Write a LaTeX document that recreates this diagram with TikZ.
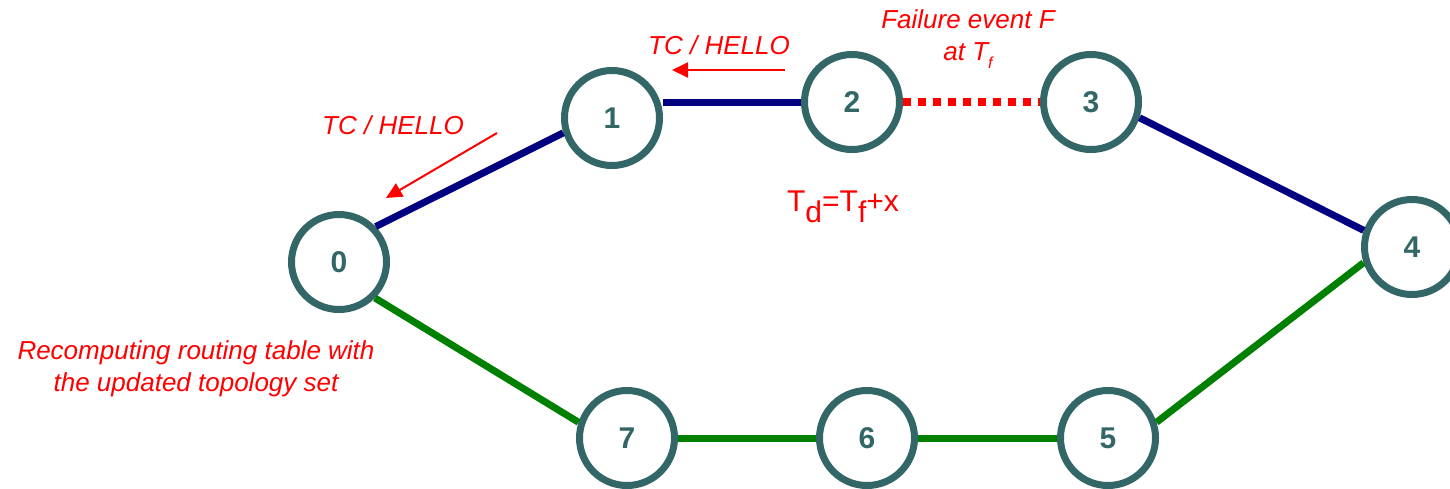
\documentclass[tikz,border=0pt]{standalone}
\usepackage{fontspec}
\setmainfont{Liberation Sans}
\usetikzlibrary{arrows.meta}
\definecolor{ringc}{RGB}{51,102,102}
\definecolor{navyc}{RGB}{0,0,128}
\definecolor{greenc}{RGB}{0,128,0}
\definecolor{redc}{RGB}{255,0,0}
\tikzset{
  router/.style={circle, draw=ringc, line width=7pt, fill=white, minimum size=95pt, inner sep=0pt,
    text=ringc, font=\fontsize{30}{30}\selectfont\bfseries},
  bluelink/.style={draw=navyc, line width=7pt},
  greenlink/.style={draw=greenc, line width=7pt},
  faillink/.style={draw=redc, line width=8pt, dash pattern=on 8pt off 7pt},
  msgarrow/.style={draw=redc, line width=2pt, -{Triangle[length=16pt,width=15pt]}},
  note/.style={text=redc, font=\fontsize{26}{32}\selectfont\itshape, align=center, inner sep=0pt},
}
\begin{document}
\begin{tikzpicture}[x=1pt,y=-1pt]
\useasboundingbox (0,0) rectangle (1450,488);
\clip (0,0) rectangle (1450,488);
% routers
\node[router] (n0) at (339,262) {0};
\node[router] (n1) at (612,118) {1};
\node[router] (n2) at (852,102) {2};
\node[router] (n3) at (1091,102) {3};
\node[router] (n4) at (1412,247) {4};
\node[router] (n5) at (1108,438) {5};
\node[router] (n6) at (867,438) {6};
\node[router] (n7) at (627,438) {7};
% links
\draw[bluelink] (n0.44) -- (n1.197);
\draw[bluelink] (n1.east |- n2.west) -- (n2.west);
\draw[faillink] (n2.east) -- (n3.west);
\draw[bluelink] (n3.342) -- (n4.161);
\draw[greenlink] (n4.198) -- (n5.18);
\draw[greenlink] (n5.west) -- (n6.east);
\draw[greenlink] (n6.west) -- (n7.east);
\draw[greenlink] (n7.162) -- (n0.315);
% message arrows
\coordinate (a1s) at (785,70);
\coordinate (a1e) at (672,70);
\coordinate (a2s) at (497,133);
\coordinate (a2e) at (386,198);
\draw[msgarrow] (a1s) -- (a1e);
\draw[msgarrow] (a2s) -- (a2e);
% labels
\node[note] (tc1) at (719,45) {TC / HELLO};
\node[note] (tc2) at (393,125) {TC / HELLO};
\node[note] (fail) at (968,39) {Failure event F\\at T\raisebox{-0.3em}{\fontsize{16}{16}\selectfont f}};
\node[note] (recomp) at (196,369) {Recomputing routing table with\\the updated topology set};
\node[text=redc, font=\fontsize{30}{30}\selectfont, inner sep=0pt] (td) at (843,207)
  {T\raisebox{-0.35em}{d}=T\raisebox{-0.35em}{f}+x};
\end{tikzpicture}
\end{document}
